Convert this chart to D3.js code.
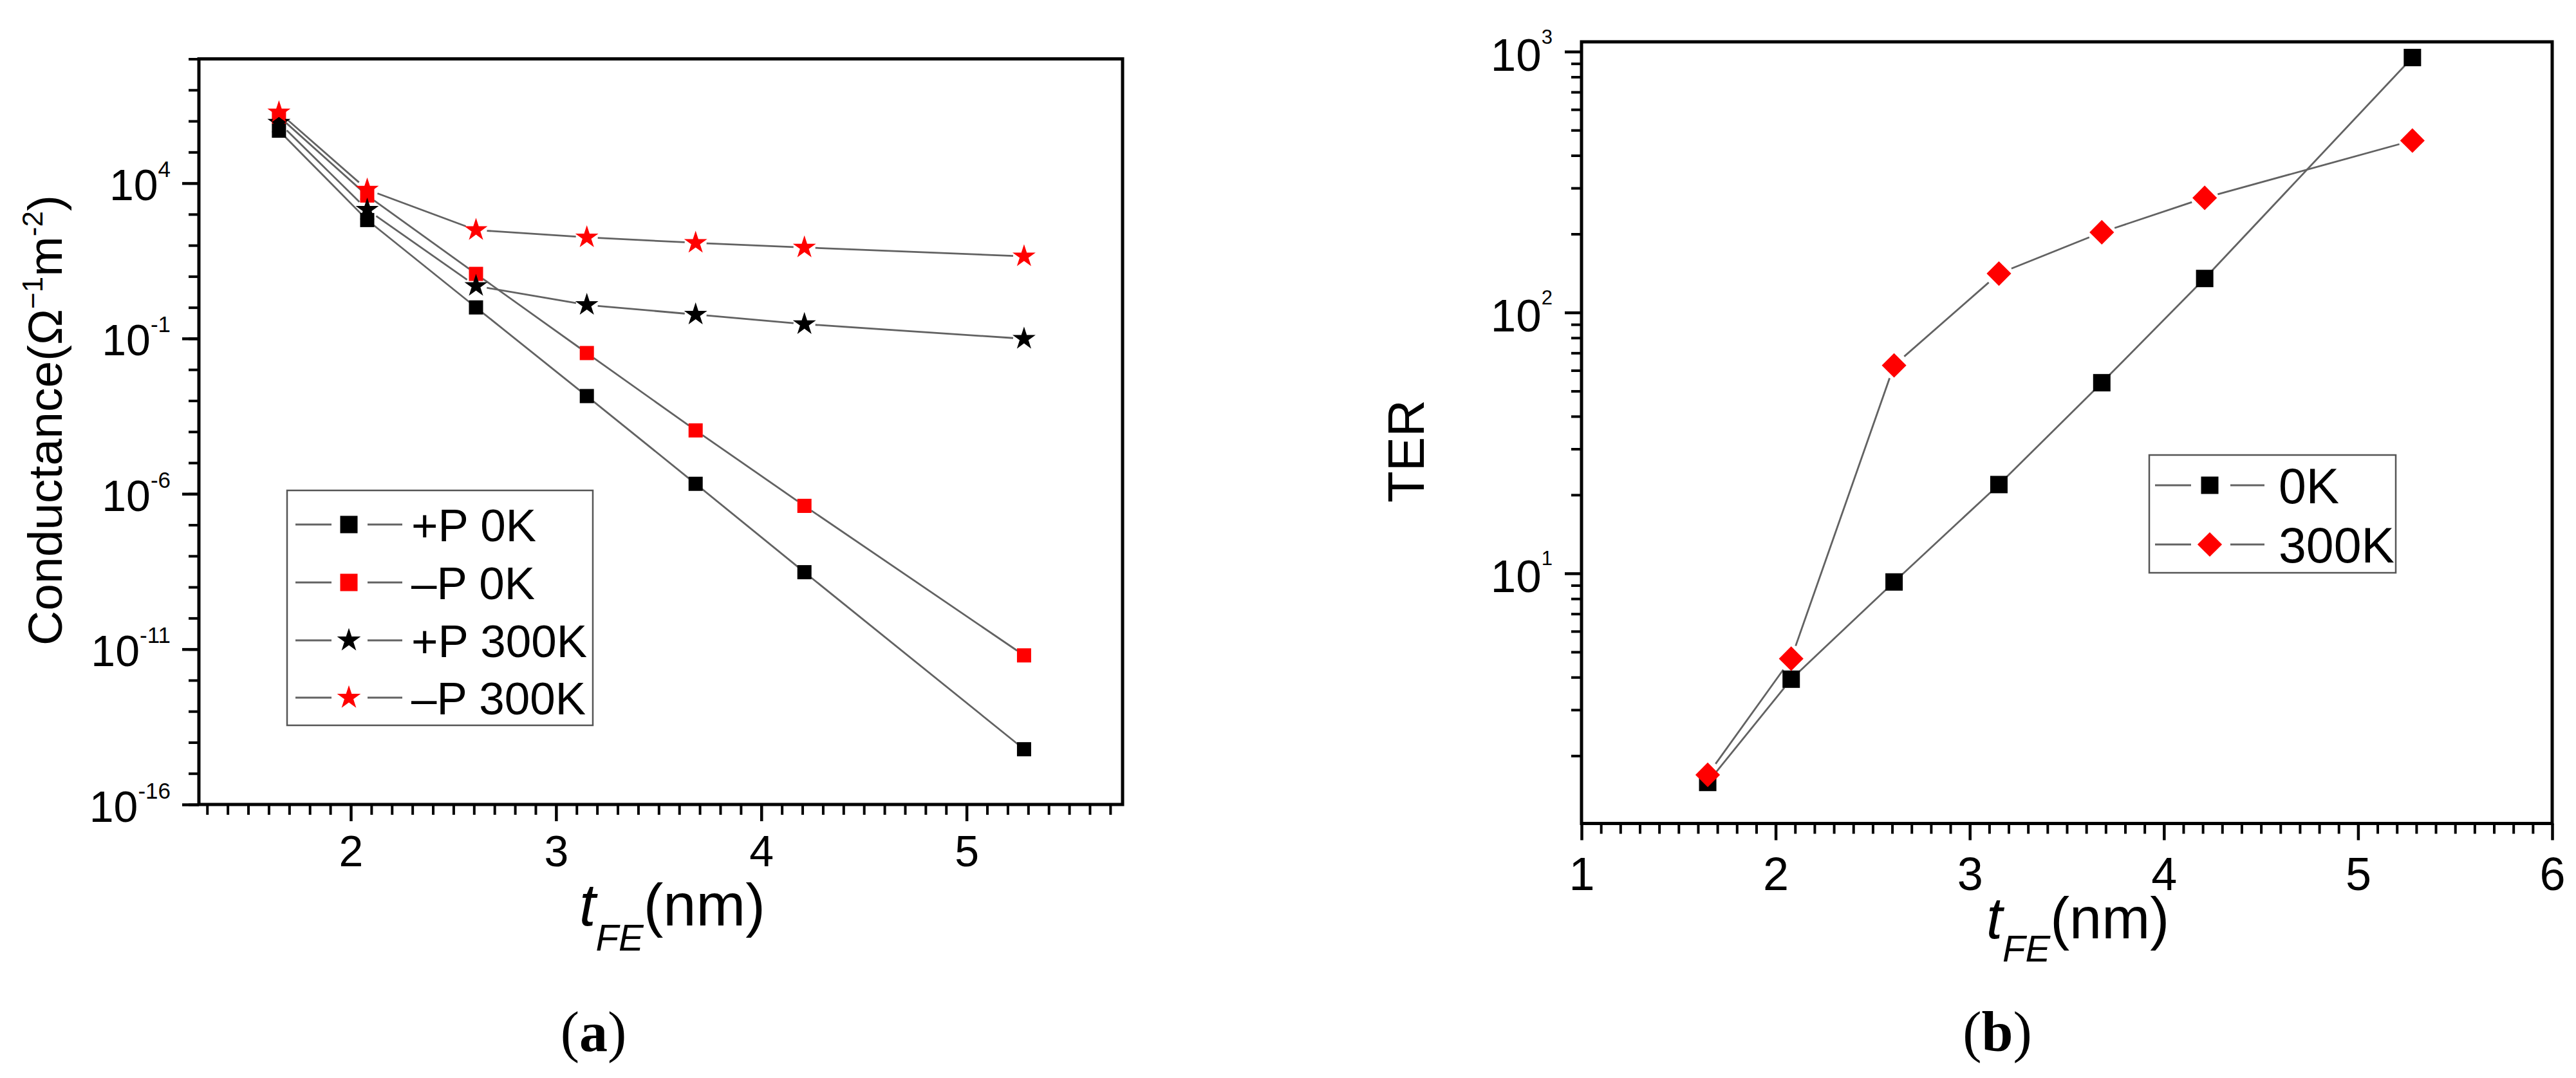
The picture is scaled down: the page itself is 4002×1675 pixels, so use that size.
<!DOCTYPE html>
<html><head><meta charset="utf-8">
<script src="https://cdn.jsdelivr.net/npm/d3@7"></script>
<style>
body{margin:0;background:#fff}
svg{display:block}
text{font-family:"Liberation Sans",Arial,sans-serif;fill:#000}
</style>
</head><body>
<script>
// ---------------- data ----------------
const thickness = [1.65, 2.08, 2.61, 3.15, 3.68, 4.21, 5.28];           // t_FE (nm)
const condPlusP0K    = [4.9e5, 6.5e2, 1.0, 1.4e-3, 2.1e-6, 3.0e-9, 6.0e-15];
const condMinusP0K   = [1.4e6, 4.0e3, 12, 3.4e-2, 1.1e-4, 4.1e-7, 6.3e-12];
const condPlusP300K  = [8.9e5, 1.4e3, 4.9, 1.2, 0.59, 0.29, 0.098];
const condMinusP300K = [1.9e6, 6.2e3, 3.1e2, 1.8e2, 1.2e2, 85, 44];
const ter0K   = [1.58, 3.93, 9.27, 21.9, 53.8, 135, 949];
const ter300K = [1.69, 4.71, 62.7, 141, 203, 275, 456];
const legendA = ["+P 0K", "\u2013P 0K", "+P 300K", "\u2013P 300K"];
const legendB = ["0K", "300K"];
const xTicksA = [2, 3, 4, 5];
const xTicksB = [1, 2, 3, 4, 5, 6];
const yTicksA = [1e-16, 1e-11, 1e-6, 1e-1, 1e4];
const yExpA   = ["-16", "-11", "-6", "-1", "4"];
const yTicksB = [10, 100, 1000];
const yExpB   = ["1", "2", "3"];

// ---------------- setup ----------------
const W = 4002, H = 1675;
const svg = d3.select("body").append("svg").attr("width", W).attr("height", H);
const LINE = "#626262";

const symSquare = s => d3.symbol(d3.symbolSquare, s * s)();
const symStar = s => d3.symbol(d3.symbolStar, s)();

function drawSeries(g, x, y, ys, gap) {
  const pts = thickness.map((v, i) => [x(v), y(ys[i])]);
  const segs = d3.pairs(pts).map(([a, b]) => {
    const dx = b[0] - a[0], dy = b[1] - a[1], L = Math.hypot(dx, dy);
    if (L <= 2 * gap) return null;
    const ux = dx / L, uy = dy / L;
    return [a[0] + ux * gap, a[1] + uy * gap, b[0] - ux * gap, b[1] - uy * gap];
  }).filter(d => d);
  g.append("g").selectAll("line").data(segs).join("line")
    .attr("x1", d => d[0]).attr("y1", d => d[1]).attr("x2", d => d[2]).attr("y2", d => d[3])
    .attr("stroke", LINE).attr("stroke-width", 2.8);
  return pts;
}
function drawMarkers(g, pts, path, color, rot) {
  g.append("g").selectAll("path").data(pts).join("path")
    .attr("transform", d => `translate(${d[0]},${d[1]}) rotate(${rot || 0})`)
    .attr("d", path).attr("fill", color);
}

function frameAndAxes(g, x, y, o) {
  const [x0, x1] = x.range(), [y0, y1] = y.range();
  g.append("g").attr("transform", `translate(0,${y0})`)
    .call(d3.axisBottom(x).tickValues(o.xMinor).tickSize(16).tickFormat(""))
    .call(s => s.select(".domain").remove())
    .selectAll("line").attr("stroke-width", 4);
  const gx = g.append("g").attr("transform", `translate(0,${y0})`)
    .call(d3.axisBottom(x).tickValues(o.xMajor).tickSize(26).tickPadding(o.xPad).tickFormat(d3.format("d")));
  gx.select(".domain").remove();
  gx.selectAll("line").attr("stroke-width", 4.5);
  gx.selectAll("text").attr("font-size", o.xFont).attr("font-family", "Liberation Sans, Arial, sans-serif");
  g.append("g").attr("transform", `translate(${x0},0)`)
    .call(d3.axisLeft(y).tickValues(o.yMinor).tickSize(16).tickFormat(""))
    .call(s => s.select(".domain").remove())
    .selectAll("line").attr("stroke-width", 4);
  const gy = g.append("g").attr("transform", `translate(${x0},0)`)
    .call(d3.axisLeft(y).tickValues(o.yMajor).tickSize(26).tickPadding(o.yPad).tickFormat(""));
  gy.select(".domain").remove();
  gy.selectAll("line").attr("stroke-width", 4.5);
  gy.selectAll(".tick text").each(function(d, i) {
    const t = d3.select(this).attr("dy", null).attr("y", o.yBase)
      .attr("font-size", o.yFont).attr("font-family", "Liberation Sans, Arial, sans-serif");
    t.append("tspan").text("10");
    t.append("tspan").attr("dy", -o.supRaise).attr("font-size", o.supFont).text(o.yExp[i]);
  });
  g.append("rect").attr("x", x0).attr("y", y1).attr("width", x1 - x0).attr("height", y0 - y1)
    .attr("fill", "none").attr("stroke", "#000").attr("stroke-width", 5);
}

// ---------------- panel (a) ----------------
{
  const g = svg.append("g");
  const x = d3.scaleLinear().domain([1.26, 5.76]).range([309, 1744]);
  const y = d3.scaleLog().domain([1e-16, 1e8]).range([1250, 91.5]);
  frameAndAxes(g, x, y, {
    xMajor: xTicksA, xMinor: d3.range(13, 58).map(v => v / 10).filter(v => !xTicksA.includes(v)),
    xPad: 22, xFont: 68,
    yMajor: yTicksA, yMinor: d3.range(-16, 9).map(k => Math.pow(10, k)),
    yPad: 18, yFont: 68, yBase: 26, supFont: 35, supRaise: 36, yExp: yExpA
  });
  const p1 = drawSeries(g, x, y, condPlusP0K, 13);
  const p2 = drawSeries(g, x, y, condMinusP0K, 13);
  const p3 = drawSeries(g, x, y, condPlusP300K, 17);
  const p4 = drawSeries(g, x, y, condMinusP300K, 17);
  drawMarkers(g, p1, symSquare(22), "#000");
  drawMarkers(g, p2, symSquare(22), "#ff0000");
  drawMarkers(g, p3, symStar(400), "#000");
  drawMarkers(g, p4, symStar(400), "#ff0000");

  const lg = g.append("g");
  lg.append("rect").attr("x", 446).attr("y", 762).attr("width", 475).attr("height", 365)
    .attr("fill", "#fff").attr("stroke", "#555").attr("stroke-width", 2.5);
  const rows = [815, 905, 995, 1084];
  const lsyms = [symSquare(27), symSquare(27), symStar(420), symStar(420)];
  const lcols = ["#000", "#ff0000", "#000", "#ff0000"];
  legendA.forEach((name, i) => {
    const cy = rows[i];
    lg.append("line").attr("x1", 459).attr("x2", 515).attr("y1", cy).attr("y2", cy).attr("stroke", LINE).attr("stroke-width", 2.8);
    lg.append("line").attr("x1", 571).attr("x2", 625).attr("y1", cy).attr("y2", cy).attr("stroke", LINE).attr("stroke-width", 2.8);
    lg.append("path").attr("transform", `translate(542,${cy})`).attr("d", lsyms[i]).attr("fill", lcols[i]);
    lg.append("text").attr("x", 639).attr("y", cy + 26).attr("font-size", 71).text(name);
  });

  const yt = g.append("text").attr("transform", "translate(96,653) rotate(-90)")
    .attr("text-anchor", "middle").attr("font-size", 75);
  yt.append("tspan").text("Conductance(\u03A9");
  yt.append("tspan").attr("dy", -30).attr("font-size", 44).text("\u22121");
  yt.append("tspan").attr("dy", 30).text("m");
  yt.append("tspan").attr("dy", -30).attr("font-size", 44).text("-2");
  yt.append("tspan").attr("dy", 30).text(")");

  const xt = g.append("text").attr("x", 900).attr("y", 1438).attr("font-size", 92);
  xt.append("tspan").attr("font-style", "italic").text("t");
  xt.append("tspan").attr("font-style", "italic").attr("font-size", 58).attr("dy", 39).text("FE");
  xt.append("tspan").attr("dy", -39).text("(nm)");

  const pl = g.append("text").attr("x", 922).attr("y", 1633).attr("text-anchor", "middle")
    .attr("font-size", 88).style("font-family", "Liberation Serif, Times New Roman, serif");
  pl.append("tspan").text("(");
  pl.append("tspan").attr("font-weight", "bold").text("a");
  pl.append("tspan").text(")");
}

// ---------------- panel (b) ----------------
{
  const g = svg.append("g");
  const x = d3.scaleLinear().domain([1, 6]).range([2457, 3965]);
  const y = d3.scaleLog().domain([1.1, 1090]).range([1279.5, 65]);
  const yMinor = [];
  [1, 10, 100].forEach(dec => d3.range(2, 10).forEach(m => { const v = m * dec; if (v >= 1.1 && v <= 1090) yMinor.push(v); }));
  frameAndAxes(g, x, y, {
    xMajor: xTicksB, xMinor: d3.range(11, 60).map(v => v / 10).filter(v => !xTicksB.includes(v)),
    xPad: 26, xFont: 72,
    yMajor: yTicksB, yMinor: yMinor,
    yPad: 19, yFont: 71, yBase: 29, supFont: 31, supRaise: 42, yExp: yExpB
  });
  const p1 = drawSeries(g, x, y, ter0K, 17);
  const p2 = drawSeries(g, x, y, ter300K, 21);
  drawMarkers(g, p1, symSquare(27), "#000");
  drawMarkers(g, p2, symSquare(27), "#ff0000", 45);

  const lg = g.append("g");
  lg.append("rect").attr("x", 3339).attr("y", 707).attr("width", 383).attr("height", 183)
    .attr("fill", "#fff").attr("stroke", "#555").attr("stroke-width", 2.5);
  const rows = [754, 846];
  const lsyms = [[symSquare(27), 0], [symSquare(27), 45]];
  const lcols = ["#000", "#ff0000"];
  legendB.forEach((name, i) => {
    const cy = rows[i];
    lg.append("line").attr("x1", 3348).attr("x2", 3404).attr("y1", cy).attr("y2", cy).attr("stroke", LINE).attr("stroke-width", 2.8);
    lg.append("line").attr("x1", 3465).attr("x2", 3518).attr("y1", cy).attr("y2", cy).attr("stroke", LINE).attr("stroke-width", 2.8);
    lg.append("path").attr("transform", `translate(3433,${cy}) rotate(${lsyms[i][1]})`).attr("d", lsyms[i][0]).attr("fill", lcols[i]);
    lg.append("text").attr("x", 3540).attr("y", cy + 28).attr("font-size", 77).text(name);
  });

  g.append("text").attr("transform", "translate(2212,701) rotate(-90)")
    .attr("text-anchor", "middle").attr("font-size", 80).text("TER");

  const xt = g.append("text").attr("x", 3086).attr("y", 1458).attr("font-size", 90);
  xt.append("tspan").attr("font-style", "italic").text("t");
  xt.append("tspan").attr("font-style", "italic").attr("font-size", 58).attr("dy", 36).text("FE");
  xt.append("tspan").attr("dy", -36).text("(nm)");

  const pl = g.append("text").attr("x", 3103).attr("y", 1633).attr("text-anchor", "middle")
    .attr("font-size", 88).style("font-family", "Liberation Serif, Times New Roman, serif");
  pl.append("tspan").text("(");
  pl.append("tspan").attr("font-weight", "bold").text("b");
  pl.append("tspan").text(")");
}
</script>
</body></html>
